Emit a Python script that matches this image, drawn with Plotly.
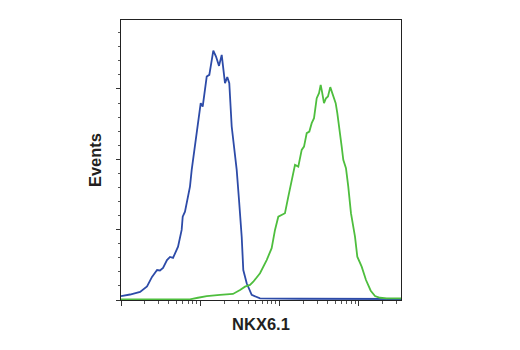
import plotly.graph_objects as go

# Fluorescence intensity (NKX6.1 channel) and event counts for each histogram
control_intensity = [100, 130, 174, 213, 246, 285, 310, 339, 380, 415, 453, 524, 582, 600,
                     641, 700, 741, 779, 901, 1012, 1072, 1205, 1299, 1459, 1578, 1722,
                     1862, 2049, 2190, 2321, 2489, 2740, 2878, 3078, 3327, 3485, 3847,
                     4446, 5662, 18070, 77270, 339600]
control_events = [2.8, 3.9, 5.7, 9.6, 16.4, 21.3, 21.0, 22.8, 28.4, 30.6, 29.9, 37.9, 49.8,
                  59.2, 62.8, 72.5, 80.6, 92.5, 120.9, 139.9, 137.5, 158.8, 160.0, 177.3,
                  173.0, 166.4, 174.2, 154.1, 158.4, 154.1, 123.3, 104.5, 92.5, 71.1, 45.0,
                  21.3, 11.9, 3.6, 1.2, 0.9, 0.7, 0.7]

nkx_intensity = [100, 741, 935, 1205, 1770, 2582, 3170, 3665, 4238, 4660, 5662, 6871, 7945,
                 8750, 9632, 10620, 11690, 12880, 14210, 15640, 17210, 19000, 20320, 21980,
                 23710, 25410, 27170, 29380, 31410, 32980, 34260, 36310, 38460, 40740,
                 43550, 46750, 50960, 53430, 56600, 60680, 63550, 68710, 73450, 79430,
                 89290, 95470, 108400, 122900, 141000, 159600, 184600, 224300, 339600]
nkx_events = [0.4, 0.5, 1.6, 2.8, 3.6, 4.3, 7.1, 9.5, 10.7, 13.0, 19.0, 28.4, 36.8, 49.8,
              59.2, 60.5, 61.7, 73.5, 86.1, 96.0, 94.8, 106.7, 109.0, 118.6, 119.7, 125.7,
              129.2, 143.4, 147.0, 152.9, 148.1, 139.9, 143.4, 144.6, 151.3, 145.8, 139.9,
              132.8, 123.3, 109.0, 99.6, 93.7, 80.6, 61.7, 45.0, 30.8, 23.7, 14.2, 6.6,
              2.8, 1.6, 1.2, 1.1]

decades = [100, 1000, 10000, 100000]
minor_steps = [2, 3, 4, 5, 6, 7, 8, 9]

blue = "#2D4BA8"
green = "#4EBE3E"
text_color = "#231F20"

fig = go.Figure()
fig.add_trace(go.Scatter(x=control_intensity, y=control_events, mode="lines",
                         line=dict(color=blue, width=1.8), showlegend=False))
fig.add_trace(go.Scatter(x=nkx_intensity, y=nkx_events, mode="lines",
                         line=dict(color=green, width=1.8), showlegend=False))

minor_x = [d * m for d in decades for m in minor_steps]

fig.update_layout(
    width=520, height=350,
    margin=dict(l=121, r=119, t=20, b=50),
    paper_bgcolor="white", plot_bgcolor="white",
    font=dict(family="Liberation Sans, Arial", color=text_color),
    xaxis=dict(
        type="log", range=[2, 5.531],
        tickmode="array", tickvals=decades, showticklabels=False,
        ticks="outside", ticklen=5, tickwidth=1, tickcolor="#333",
        minor=dict(tickmode="array", tickvals=minor_x, ticks="outside",
                   ticklen=3, tickwidth=1, tickcolor="#555"),
        showgrid=False, zeroline=False,
        showline=True, linecolor="#222", linewidth=1, mirror=True,
        title=dict(text="<b>NKX6.1</b>", font=dict(size=16.5), standoff=13),
    ),
    yaxis=dict(
        range=[0, 199],
        tickmode="linear", tick0=0, dtick=50, showticklabels=False,
        ticks="outside", ticklen=4, tickwidth=1, tickcolor="#333",
        minor=dict(dtick=10, ticks="outside", ticklen=2, tickwidth=1, tickcolor="#555"),
        showgrid=False, zeroline=False,
        showline=True, linecolor="#222", linewidth=1, mirror=True,
        title=dict(text="<b>Events</b>", font=dict(size=16.5), standoff=10),
    ),
)

fig.write_html("out.html")
